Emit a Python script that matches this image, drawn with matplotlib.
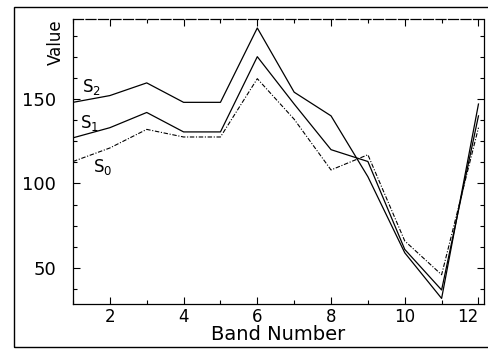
import matplotlib
matplotlib.use("Agg")
import matplotlib.pyplot as plt
from matplotlib.patches import Rectangle
from matplotlib.ticker import MultipleLocator

# band numbers and the three curves
bands = [1, 2, 3, 4, 5, 6, 7, 8, 9, 10, 11, 12]
s2 = [148, 152, 159.5, 148, 148, 192, 154, 140, 104, 59, 32, 147]
s1 = [127, 133, 142, 130.5, 130.5, 175, 147, 120, 113, 61, 37, 140]
s0 = [113, 121, 132, 127.5, 127.5, 162, 138, 108, 117, 66, 46, 133]

x_ticks = [2, 4, 6, 8, 10, 12]
y_ticks = [50, 100, 150]

fig = plt.figure(figsize=(4.88, 3.51), dpi=100)
ax = fig.add_axes([73 / 488, 47 / 351, 411 / 488, 285 / 351])

ax.plot(bands, s2, color="black", lw=0.9)
ax.plot(bands, s1, color="black", lw=0.9)
ax.plot(bands, s0, color="black", lw=0.8, linestyle=(0, (4, 1.5, 1, 1.5)))

# curve labels
ax.text(1.25, 157, "S$_2$", fontsize=12, ha="left", va="center")
ax.text(1.2, 136, "S$_1$", fontsize=12, ha="left", va="center")
ax.text(1.55, 110, "S$_0$", fontsize=12, ha="left", va="center")

ax.set_xlim(1, 12.15)
ax.set_ylim(28.7, 197.3)
ax.set_xticks(x_ticks)
ax.set_yticks(y_ticks)
ax.xaxis.set_minor_locator(MultipleLocator(1))
ax.yaxis.set_minor_locator(MultipleLocator(12.5))
ax.tick_params(which="both", direction="in", top=True, right=True,
               width=0.8, colors="black")
ax.tick_params(axis="y", labelsize=13, pad=12)
ax.tick_params(axis="x", labelsize=12, pad=3)
ax.tick_params(which="major", length=5)
ax.tick_params(which="minor", length=3)
# last label sits against the right edge
ax.get_xticklabels()[-1].set_horizontalalignment("right")

for sp in ax.spines.values():
    sp.set_linewidth(0.9)
ax.spines["top"].set_linestyle((0, (8, 2)))

ax.set_xlabel("Band Number", fontsize=14, labelpad=-1)
fig.text(56 / 488, 1 - 42 / 351, "Value", rotation=90, fontsize=12,
         ha="center", va="center")

# outer frame of the scanned figure
fig.patches.append(Rectangle((14 / 488, 4 / 351), 1.0, 340 / 351,
                             transform=fig.transFigure, fill=False,
                             edgecolor="black", lw=1.0))

fig.savefig("out.png", dpi=100)
